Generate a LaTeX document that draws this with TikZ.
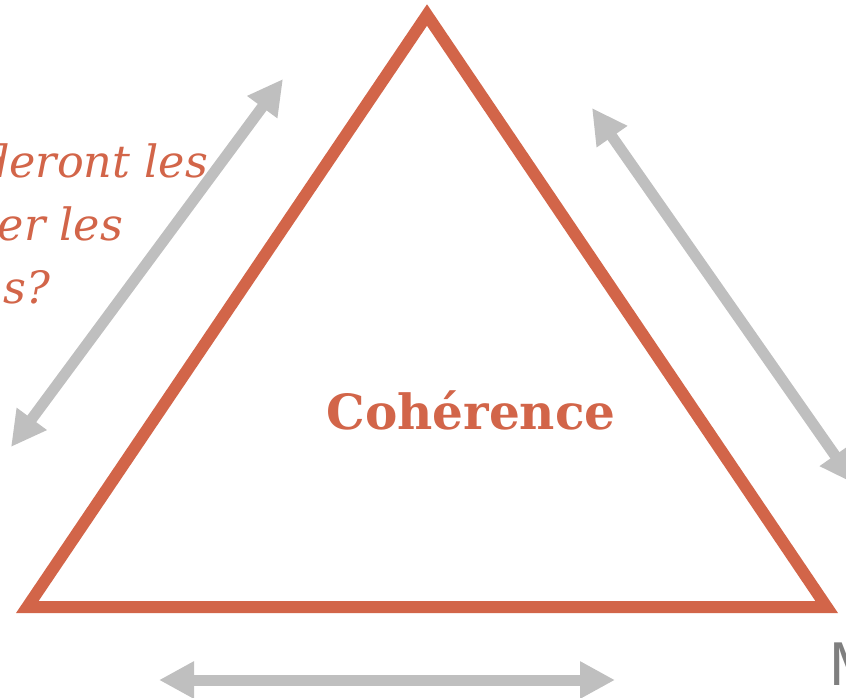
\documentclass[tikz,border=0pt]{standalone}
\usepackage{fontspec}
\setmainfont{DejaVu Serif}
\newfontfamily\labelsans{Liberation Sans}
\usetikzlibrary{positioning}
\usetikzlibrary{arrows.meta}
\definecolor{brick}{RGB}{210,101,73}
\definecolor{arrowgray}{RGB}{191,191,191}
\definecolor{mgray}{RGB}{127,127,127}
\tikzset{
    %Define standard arrow tip
    >={Triangle[length=35pt,width=35pt]},
    % Define arrow style
    pil/.style={
           <->,
           line width=11pt,
           arrowgray,}
}
\newcommand{\edgewidth}{12pt}
\newcommand{\questionsize}{44.5}

\begin{document}
\begin{tikzpicture}[x=1pt, y=-1pt, inner sep=0pt, outer sep=0pt]
\tikzstyle{question}=[text=brick, font=\itshape\fontsize{\questionsize}{54}\selectfont, anchor=base east]
\tikzstyle{title}=[text=brick, font=\bfseries\fontsize{48.5}{50}\selectfont, anchor=base]
\tikzstyle{corner}=[text=mgray, font=\labelsans\fontsize{62}{62}\selectfont, anchor=base west]

\useasboundingbox (0,0) rectangle (846,698);
\clip (0,0) rectangle (846,698);

% triangle
\coordinate (apex) at (427,15);
\coordinate (baseleft) at (27.3,607);
\coordinate (baseright) at (826.7,607);
\draw[brick, line width=\edgewidth, line join=miter] (apex) -- (baseleft) -- (baseright) -- cycle;

\node[title] (coherence) at (471,429) {Cohérence};

% texts
\node[question] (line0) at (208,177) {deront les};
\node[question] (line1) at (123,240) {er les};
\node[question] (line2) at (50,303) {s?};
\node[corner] (mlabel) at (829,685) {M};

% arrows
\coordinate (leftup) at (283,79);
\coordinate (leftdown) at (11,447);
\coordinate (rightup) at (592,108);
\coordinate (rightdown) at (855,484);
\coordinate (bottomleft) at (159,680);
\coordinate (bottomright) at (615,680);

\draw[pil] (leftup) -- (leftdown);
\draw[pil] (rightup) -- (rightdown);
\draw[pil] (bottomleft) -- (bottomright);

\end{tikzpicture}
\end{document}
